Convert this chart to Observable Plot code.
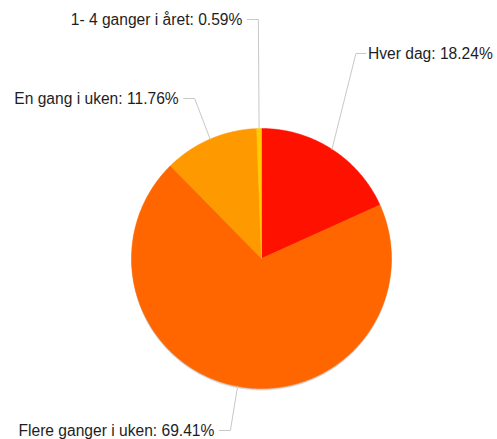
<!DOCTYPE html>
<html><head><meta charset="utf-8">
<script src="https://cdn.jsdelivr.net/npm/d3@7"></script>
<script src="https://cdn.jsdelivr.net/npm/@observablehq/plot@0.6"></script>
<style>body{margin:0;background:#fff}</style>
</head><body><div id="chart"></div>
<script>
// ---- data ----
const categories = ["Hver dag", "Flere ganger i uken", "En gang i uken", "1- 4 ganger i året"];
const shares = [18.24, 69.41, 11.76, 0.59];
const colors = ["#ff1100", "#ff6600", "#ff9900", "#ffcc00"];

// ---- layout ----
const W = 497, H = 439, cx = 261, cy = 258, R = 130;
const labelY = [53, 430, 98, 19]; // vertical placement of each label
const FONT = "'Liberation Sans', Arial, Helvetica, sans-serif";

const total = d3.sum(shares);
const toRad = d => d * Math.PI / 180;
const pt = (deg, r) => ({x: cx + r * Math.sin(toRad(deg)), y: cy - r * Math.cos(toRad(deg))});

let acc = 0;
const slices = shares.map((v, i) => {
  const a0 = acc / total * 360; acc += v; const a1 = acc / total * 360;
  const pts = [{x: cx, y: cy}];
  const n = Math.max(2, Math.ceil((a1 - a0) / 0.5));
  for (let k = 0; k <= n; k++) pts.push(pt(a0 + (a1 - a0) * k / n, R));
  pts.push({x: cx, y: cy});
  return {i, a0, a1, mid: (a0 + a1) / 2, pts};
});

const circle = d3.range(0, 361, 1).map(d => pt(d, R));

const leaders = [];
const labels = [];
slices.forEach(s => {
  const e = pt(s.mid, R);
  const right = Math.sin(toRad(s.mid)) >= 0;
  const ex = cx + (right ? 1.34 : 1.3) * (e.x - cx);
  const ly = labelY[s.i];
  const hx = ex + (right ? 10 : -11);
  leaders.push({k: s.i, x: e.x, y: e.y}, {k: s.i, x: ex, y: ly}, {k: s.i, x: hx, y: ly});
  labels.push({x: hx + (right ? 2 : -5), y: ly, anchor: right ? "start" : "end",
    text: `${categories[s.i]}: ${shares[s.i].toFixed(2)}%`});
});

const chart = Plot.plot({
  width: W, height: H, margin: 0,
  style: {fontFamily: FONT, background: "white"},
  x: {domain: [0, W], range: [0, W], axis: null},
  y: {domain: [0, H], range: [0, H], axis: null},
  marks: [
    Plot.line(circle, {x: "x", y: "y", fill: "#000", fillOpacity: 0.12, stroke: "none", dy: 2}),
    Plot.line(circle, {x: "x", y: "y", fill: "#000", fillOpacity: 0.1, stroke: "none", dy: 1}),
    ...slices.map(s => Plot.line(s.pts, {x: "x", y: "y", fill: colors[s.i], stroke: colors[s.i], strokeWidth: 0.5})),
    Plot.line(leaders, {x: "x", y: "y", z: "k", stroke: "#c8c8c8", strokeWidth: 1}),
    Plot.text(labels.filter(d => d.anchor === "start"), {x: "x", y: "y", text: "text", textAnchor: "start", fontSize: 15.6, fill: "#1e1e1e"}),
    Plot.text(labels.filter(d => d.anchor === "end"), {x: "x", y: "y", text: "text", textAnchor: "end", fontSize: 15.6, fill: "#1e1e1e"})
  ]
});
document.getElementById("chart").append(chart);
</script>
</body></html>
